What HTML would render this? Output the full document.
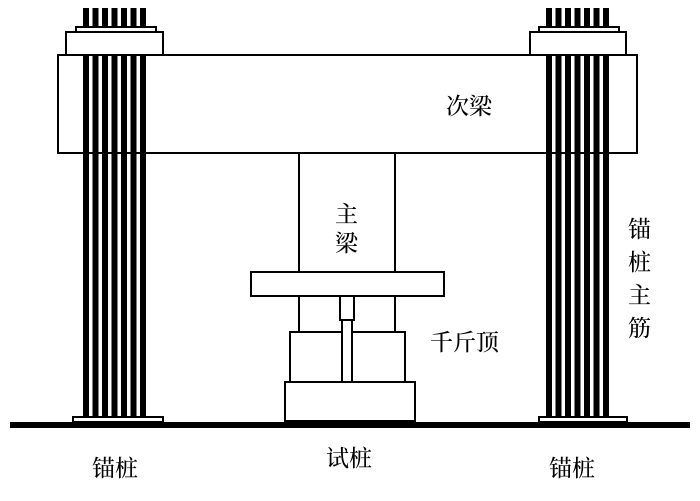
<!DOCTYPE html>
<html><head><meta charset="utf-8"><style>
body{margin:0;background:#fff;width:700px;height:496px;overflow:hidden}
svg text{font-family:"Liberation Serif","Noto Serif CJK SC","Noto Sans CJK SC",serif;font-size:23px;font-weight:500;fill:#000}
</style></head><body>
<svg width="700" height="496" viewBox="0 0 700 496" xmlns="http://www.w3.org/2000/svg">
<g fill="#fff" stroke="#000" stroke-width="2">
<rect x="58" y="55" width="579" height="98"/>
<rect x="66" y="32" width="97" height="23"/>
<rect x="76" y="27" width="80" height="5"/>
<rect x="530" y="32" width="96" height="23"/>
<rect x="539" y="27" width="80" height="5"/>
<rect x="73" y="417" width="90" height="5"/>
<rect x="539" y="417" width="88" height="5"/>
<rect x="299" y="153" width="96" height="180"/>
<rect x="251" y="272" width="193" height="24"/>
<rect x="340" y="296" width="14" height="24"/>
<rect x="290" y="332" width="115" height="50"/>
<rect x="342" y="320" width="10" height="62"/>
<rect x="285" y="382" width="130" height="39"/>
</g>
<g fill="#000">
<rect x="83" y="8" width="6" height="19"/><rect x="92.5" y="8" width="6" height="19"/><rect x="102" y="8" width="6" height="19"/><rect x="111.5" y="8" width="6" height="19"/><rect x="121" y="8" width="6" height="19"/><rect x="130.5" y="8" width="6" height="19"/><rect x="140" y="8" width="6" height="19"/>
<rect x="83" y="56" width="6" height="361"/><rect x="92.5" y="56" width="6" height="361"/><rect x="102" y="56" width="6" height="361"/><rect x="111.5" y="56" width="6" height="361"/><rect x="121" y="56" width="6" height="361"/><rect x="130.5" y="56" width="6" height="361"/><rect x="140" y="56" width="6" height="361"/>
<rect x="546" y="8" width="6" height="19"/><rect x="555.5" y="8" width="6" height="19"/><rect x="565" y="8" width="6" height="19"/><rect x="574.5" y="8" width="6" height="19"/><rect x="584" y="8" width="6" height="19"/><rect x="593.5" y="8" width="6" height="19"/><rect x="603" y="8" width="6" height="19"/>
<rect x="546" y="56" width="6" height="361"/><rect x="555.5" y="56" width="6" height="361"/><rect x="565" y="56" width="6" height="361"/><rect x="574.5" y="56" width="6" height="361"/><rect x="584" y="56" width="6" height="361"/><rect x="593.5" y="56" width="6" height="361"/><rect x="603" y="56" width="6" height="361"/>
<rect x="10" y="422" width="680" height="6"/>
</g>
<text x="446" y="114">次梁</text>
<text x="335" y="222">主</text>
<text x="335" y="251">梁</text>
<text x="430" y="350">千斤顶</text>
<text x="628" y="237">锚</text>
<text x="628" y="270">桩</text>
<text x="628" y="303">主</text>
<text x="628" y="336">筋</text>
<text x="92" y="476">锚桩</text>
<text x="326" y="466">试桩</text>
<text x="549" y="476">锚桩</text>
</svg>
</body></html>
